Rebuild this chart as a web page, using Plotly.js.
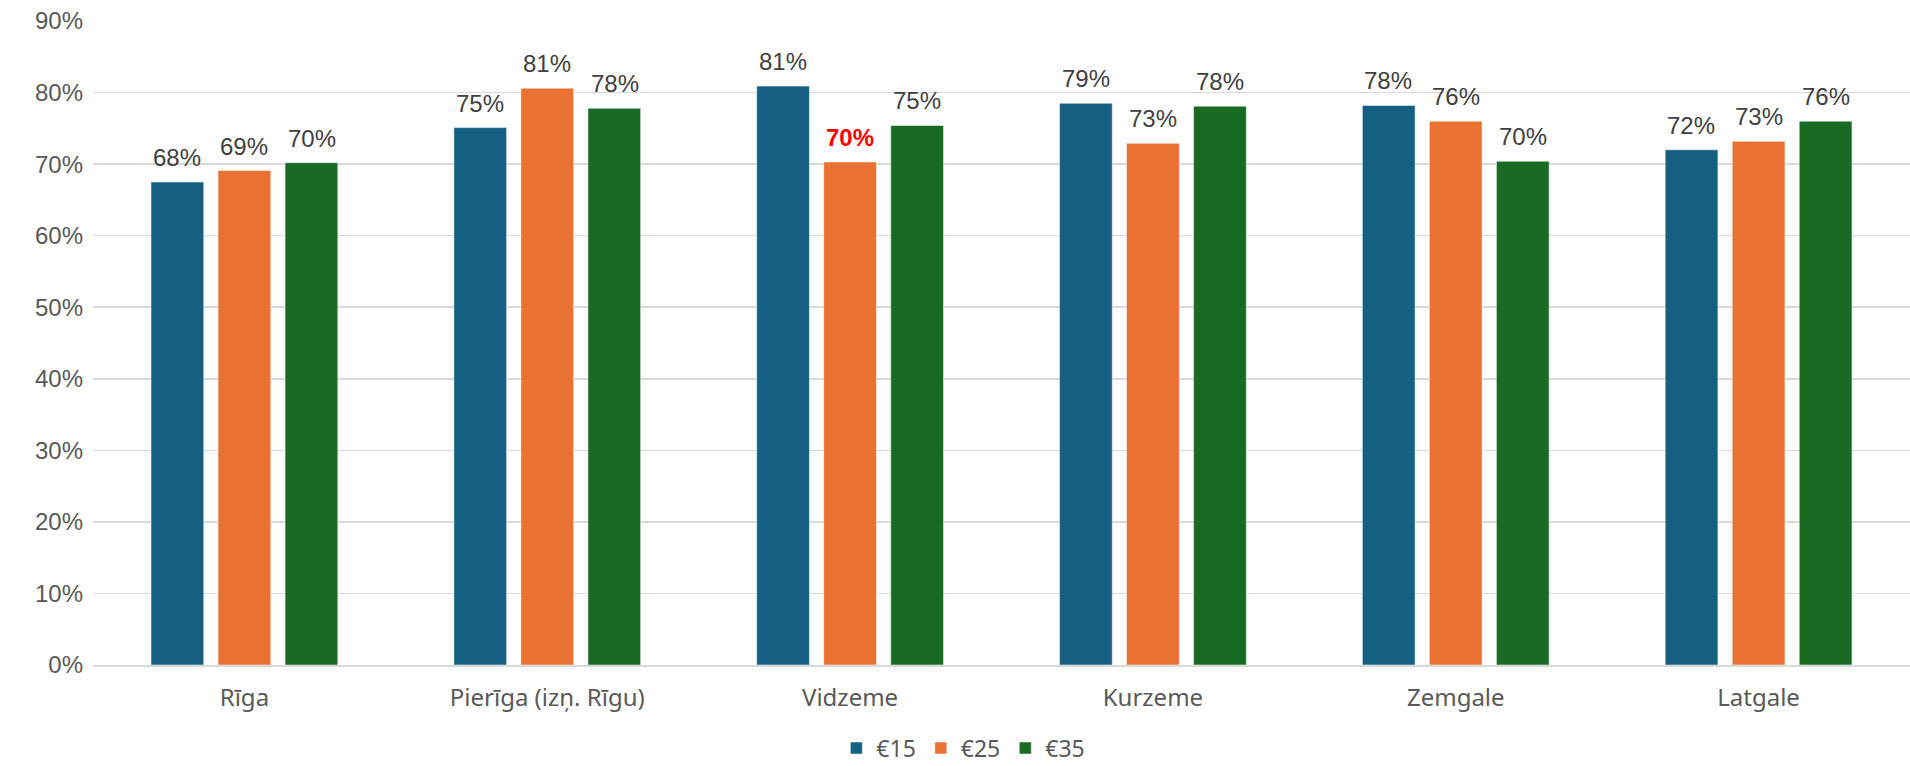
<!DOCTYPE html>
<html>
<head>
<meta charset="utf-8">
<script src="https://cdn.plot.ly/plotly-3.0.1.min.js"></script>
<style>
  html, body { margin: 0; padding: 0; background: #fff; }
  #myGraph { width: 1910px; height: 766px; }
</style>
</head>
<body>
<div id="myGraph"></div>
<script>
// reģioni (x ass)
var regions = ['Rīga', 'Pierīga (izņ. Rīgu)', 'Vidzeme', 'Kurzeme', 'Zemgale', 'Latgale'];

// sērijas - vērtības procentos
var seriesNames = ['€15', '€25', '€35'];
var val15 = [67.5, 75.1, 80.9, 78.5, 78.2, 72.0];
var val25 = [69.1, 80.6, 70.3, 72.9, 76.0, 73.2];
var val35 = [70.2, 77.8, 75.4, 78.1, 70.4, 76.0];
var colors = ['#156082', '#E97132', '#196B24'];

// izceltais punkts (sarkans, treknrakstā)
var highlight = { series: 1, index: 2 };

var yTicks = [0, 10, 20, 30, 40, 50, 60, 70, 80, 90];

var allValues = [val15, val25, val35];
var slotPx = 67.3; // vienas joslas vieta grupā (px)

function makeTrace(name, values, color) {
    return {
        type: 'bar',
        name: name,
        x: regions,
        y: values,
        marker: { color: color, line: { color: 'rgba(255,255,255,0.5)', width: 1 } },
        hoverinfo: 'none'
    };
}

var data = [
    makeTrace(seriesNames[0], val15, colors[0]),
    makeTrace(seriesNames[1], val25, colors[1]),
    makeTrace(seriesNames[2], val35, colors[2])
];

// datu etiķetes virs joslām
var annotations = [];
allValues.forEach(function (values, s) {
    values.forEach(function (v, i) {
        var isHl = (s == highlight.series && i == highlight.index);
        annotations.push({
            xref: 'x', yref: 'y',
            x: regions[i], y: v,
            xshift: (s - 1) * slotPx,
            yshift: 9,
            yanchor: 'bottom',
            showarrow: false,
            text: isHl ? '<b>' + Math.round(v) + '%</b>' : Math.round(v) + '%',
            font: {
                family: 'Liberation Sans, Arial, sans-serif',
                size: 24,
                color: isHl ? '#FF0000' : '#404040'
            }
        });
    });
});

var layout = {
    width: 1910,
    height: 766,
    margin: { l: 93, r: 0, t: 21, b: 101, autoexpand: false },
    paper_bgcolor: '#ffffff',
    plot_bgcolor: '#ffffff',
    font: { family: 'Liberation Sans, Arial, sans-serif', size: 24, color: '#595959' },
    barmode: 'group',
    bargap: 0.336,
    bargroupgap: 0.213,
    showlegend: true,
    legend: {
        orientation: 'h',
        x: 0.479, xanchor: 'center',
        y: -0.129, yanchor: 'middle',
        font: { family: 'Noto Sans, sans-serif', size: 23, color: '#595959' },
        itemclick: false
    },
    annotations: annotations,
    xaxis: {
        type: 'category',
        showgrid: false,
        showline: true,
        linecolor: '#D9D9D9',
        linewidth: 2,
        ticks: '',
        ticklabelstandoff: 10,
        tickfont: { family: 'Noto Sans, sans-serif', size: 24, color: '#595959' }
    },
    yaxis: {
        range: [0, 90],
        tickvals: yTicks,
        ticktext: yTicks.map(function (t) { return t + '%'; }),
        showgrid: true,
        gridcolor: '#D9D9D9',
        gridwidth: 1.5,
        zeroline: false,
        showline: false,
        ticks: '',
        ticklabelstandoff: 9,
        tickfont: { size: 24, color: '#595959' }
    }
};

var config = { displayModeBar: false, staticPlot: true };

Plotly.newPlot(document.getElementById('myGraph'), data, layout, config);
</script>
</body>
</html>
